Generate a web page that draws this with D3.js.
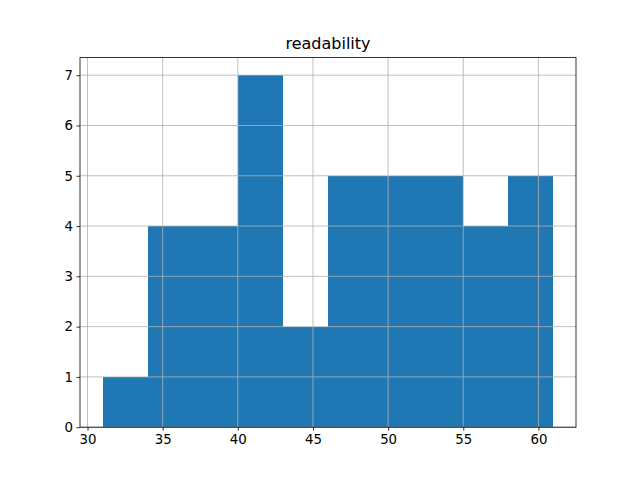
<!DOCTYPE html>
<html><head><meta charset="utf-8">
<script src="https://cdn.jsdelivr.net/npm/d3@7"></script>
<style>body{margin:0;background:#fff}svg{display:block;font-family:"DejaVu Sans",sans-serif}</style>
</head><body>
<svg id="c" width="640" height="480"></svg>
<script>
const title = "readability";
const binEdges = [31, 34, 37, 40, 43, 46, 49, 52, 55, 58, 61];
const counts = [1, 4, 4, 7, 2, 5, 5, 5, 4, 5];
const xTicks = [30, 35, 40, 45, 50, 55, 60];
const yTicks = [0, 1, 2, 3, 4, 5, 6, 7];

const svg = d3.select("#c");
const L = 80, R = 576, T = 57.6, B = 427.2;
const x = d3.scaleLinear().domain([29.5, 62.5]).range([L, R]);
const y = d3.scaleLinear().domain([0, 7.35]).range([B, T]);

const bins = counts.map((c, i) => ({x0: binEdges[i], x1: binEdges[i+1], c}));
svg.append("g").attr("shape-rendering", "crispEdges").selectAll("rect").data(bins).join("rect")
  .attr("x", d => Math.round(x(d.x0))).attr("width", d => Math.round(x(d.x1)) - Math.round(x(d.x0)))
  .attr("y", d => y(d.c)).attr("height", d => y(0) - y(d.c))
  .attr("fill", "#1f77b4");

// grid
const g = svg.append("g").attr("stroke", "#b0b0b0").attr("stroke-width", 0.8);
xTicks.forEach(t => g.append("line").attr("x1", x(t)).attr("x2", x(t)).attr("y1", T).attr("y2", B));
yTicks.forEach(t => g.append("line").attr("y1", y(t)).attr("y2", y(t)).attr("x1", L).attr("x2", R));

// axes
const xa = svg.append("g").attr("transform", `translate(0,${B})`)
  .call(d3.axisBottom(x).tickValues(xTicks).tickSize(3.5).tickPadding(3.5).tickFormat(d3.format("d")));
const ya = svg.append("g").attr("transform", `translate(${L},0)`)
  .call(d3.axisLeft(y).tickValues(yTicks).tickSize(3.5).tickPadding(3.5).tickFormat(d3.format("d")));
[xa, ya].forEach(a => {
  a.select(".domain").remove();
  a.selectAll("text").attr("font-size", "13.33px").attr("fill", "#000").attr("font-family", "DejaVu Sans, sans-serif");
  a.selectAll("line").attr("stroke", "#000").attr("stroke-width", 0.8);
});
// spines
svg.append("rect").attr("x", L).attr("y", T).attr("width", R - L).attr("height", B - T)
  .attr("fill", "none").attr("stroke", "#000").attr("stroke-width", 0.8);

svg.append("text").attr("x", (L + R) / 2).attr("y", T - 9).attr("text-anchor", "middle")
  .attr("font-size", "16px").attr("fill", "#000").text(title);
</script>
</body></html>
